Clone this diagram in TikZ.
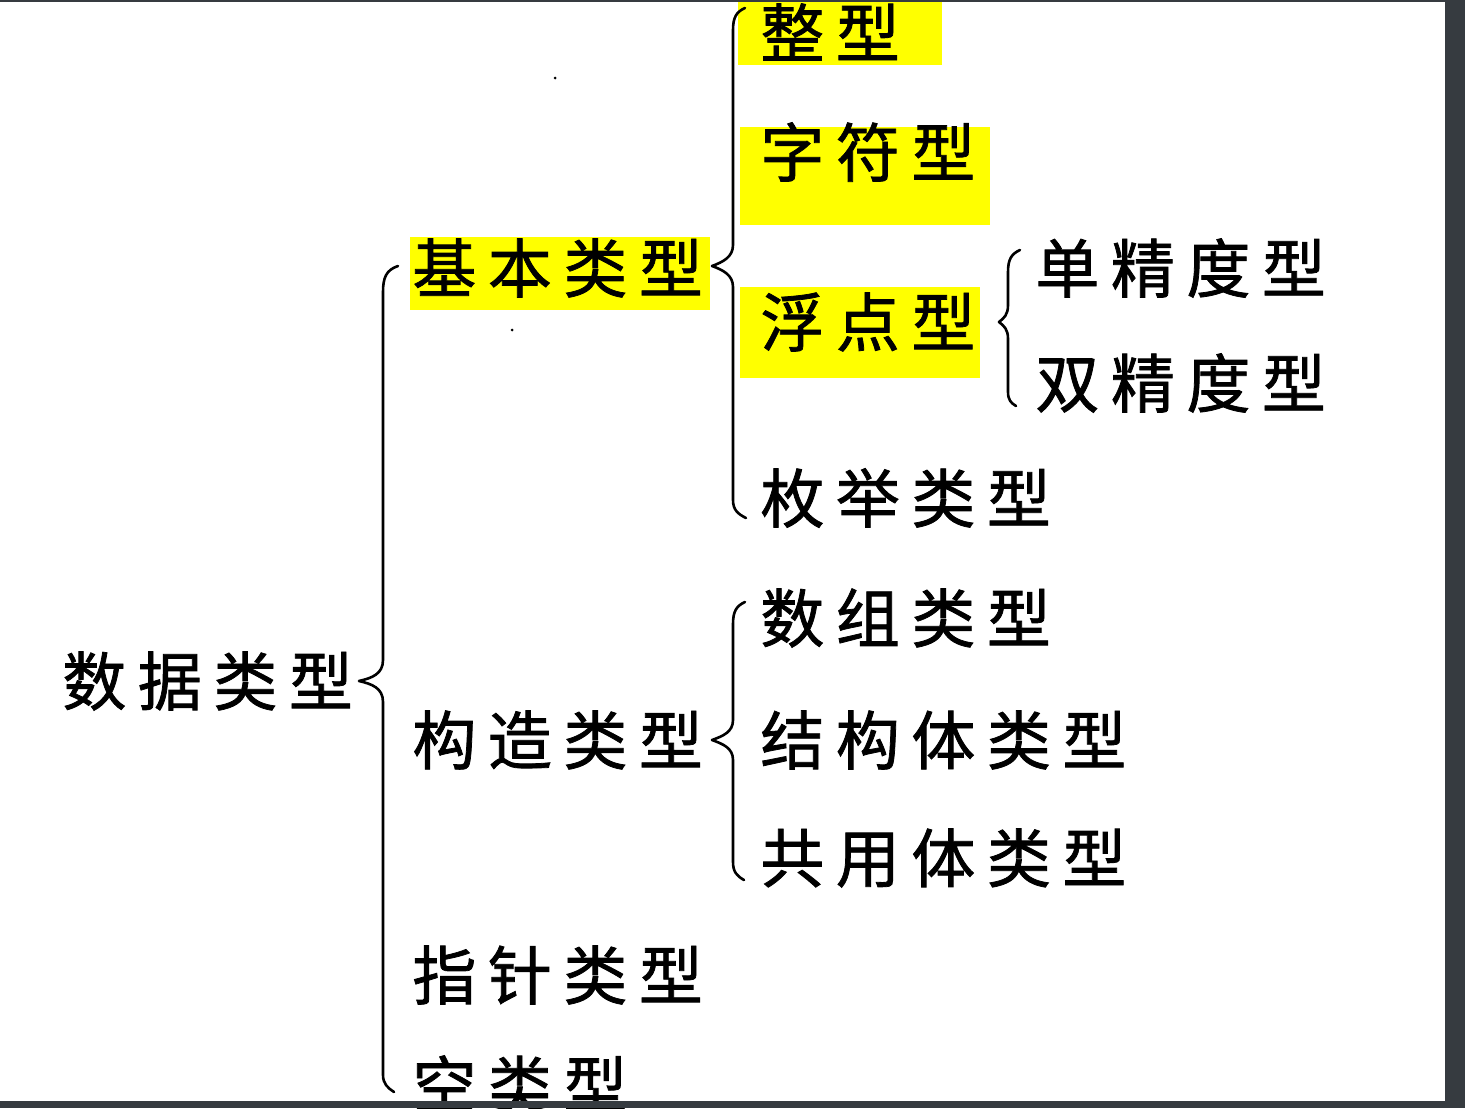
\documentclass[tikz,border=0pt]{standalone}
\usepackage{fontspec}
\newfontfamily\cjk[LetterSpace=18,FakeBold=1.2]{Noto Sans CJK SC}
\definecolor{frame}{HTML}{363B40}
\definecolor{hl}{HTML}{FFFF00}
\tikzset{
  lbl/.style={anchor=west, inner sep=0pt, font=\cjk\fontsize{32}{36}\selectfont},
  brc/.style={draw=black, line width=1.3pt, line cap=round, line join=round},
  hlbox/.style={fill=hl, draw=none}
}
\begin{document}
\begin{tikzpicture}[x=0.5pt, y=-0.5pt]
\useasboundingbox (0,0) rectangle (1465,1108);
\fill[white] (0,0) rectangle (1465,1108);
% highlights
\fill[hlbox] (410,237) rectangle (710,310);
\fill[hlbox] (738,0) rectangle (942,65);
\fill[hlbox] (740,127) rectangle (990,225);
\fill[hlbox] (740,287) rectangle (980,378);
% labels
\node[lbl] (root) at (62,681) {数据类型};
\node[lbl] (basic) at (412,268) {基本类型};
\node[lbl] (int) at (760,32) {整型};
\node[lbl] (char) at (760,152) {字符型};
\node[lbl] (float) at (760,322) {浮点型};
\node[lbl] (single) at (1035,268) {单精度型};
\node[lbl] (double) at (1035,383) {双精度型};
\node[lbl] (enum) at (760,498) {枚举类型};
\node[lbl] (cons) at (412,740) {构造类型};
\node[lbl] (arr) at (760,618) {数组类型};
\node[lbl] (struct) at (760,740) {结构体类型};
\node[lbl] (union) at (760,858) {共用体类型};
\node[lbl] (ptr) at (412,975) {指针类型};
\node[lbl] (void) at (412,1085) {空类型};
% braces
\draw[brc] (398,266) .. controls (386,270) and (383,278) .. (383,292)
  -- (383,660) .. controls (383,674) and (372,678) .. (359,681)
  .. controls (372,684) and (383,688) .. (383,702)
  -- (383,1075) .. controls (383,1084) and (388,1088) .. (394,1092);
\draw[brc] (745,8) .. controls (736,12) and (733,18) .. (733,30)
  -- (733,245) .. controls (733,257) and (723,262) .. (712,266)
  .. controls (723,270) and (733,275) .. (733,287)
  -- (733,500) .. controls (733,510) and (738,514) .. (746,518);
\draw[brc] (1020,250) .. controls (1011,254) and (1008,260) .. (1008,272)
  -- (1008,305) .. controls (1008,315) and (1004,318) .. (999,322)
  .. controls (1004,326) and (1008,329) .. (1008,339)
  -- (1008,392) .. controls (1008,400) and (1011,403) .. (1016,406);
\draw[brc] (745,602) .. controls (736,606) and (733,612) .. (733,624)
  -- (733,720) .. controls (733,732) and (723,736) .. (712,740)
  .. controls (723,744) and (733,748) .. (733,760)
  -- (733,862) .. controls (733,872) and (737,876) .. (744,880);
% stray scan dots
\fill (555,78) circle (1.5);
\fill (512,330) circle (1.5);
% frame
\fill[frame] (0,0) rectangle (1465,2);
\fill[frame] (1445,0) rectangle (1465,1108);
\fill[frame] (0,1101) rectangle (1465,1108);
\end{tikzpicture}
\end{document}
